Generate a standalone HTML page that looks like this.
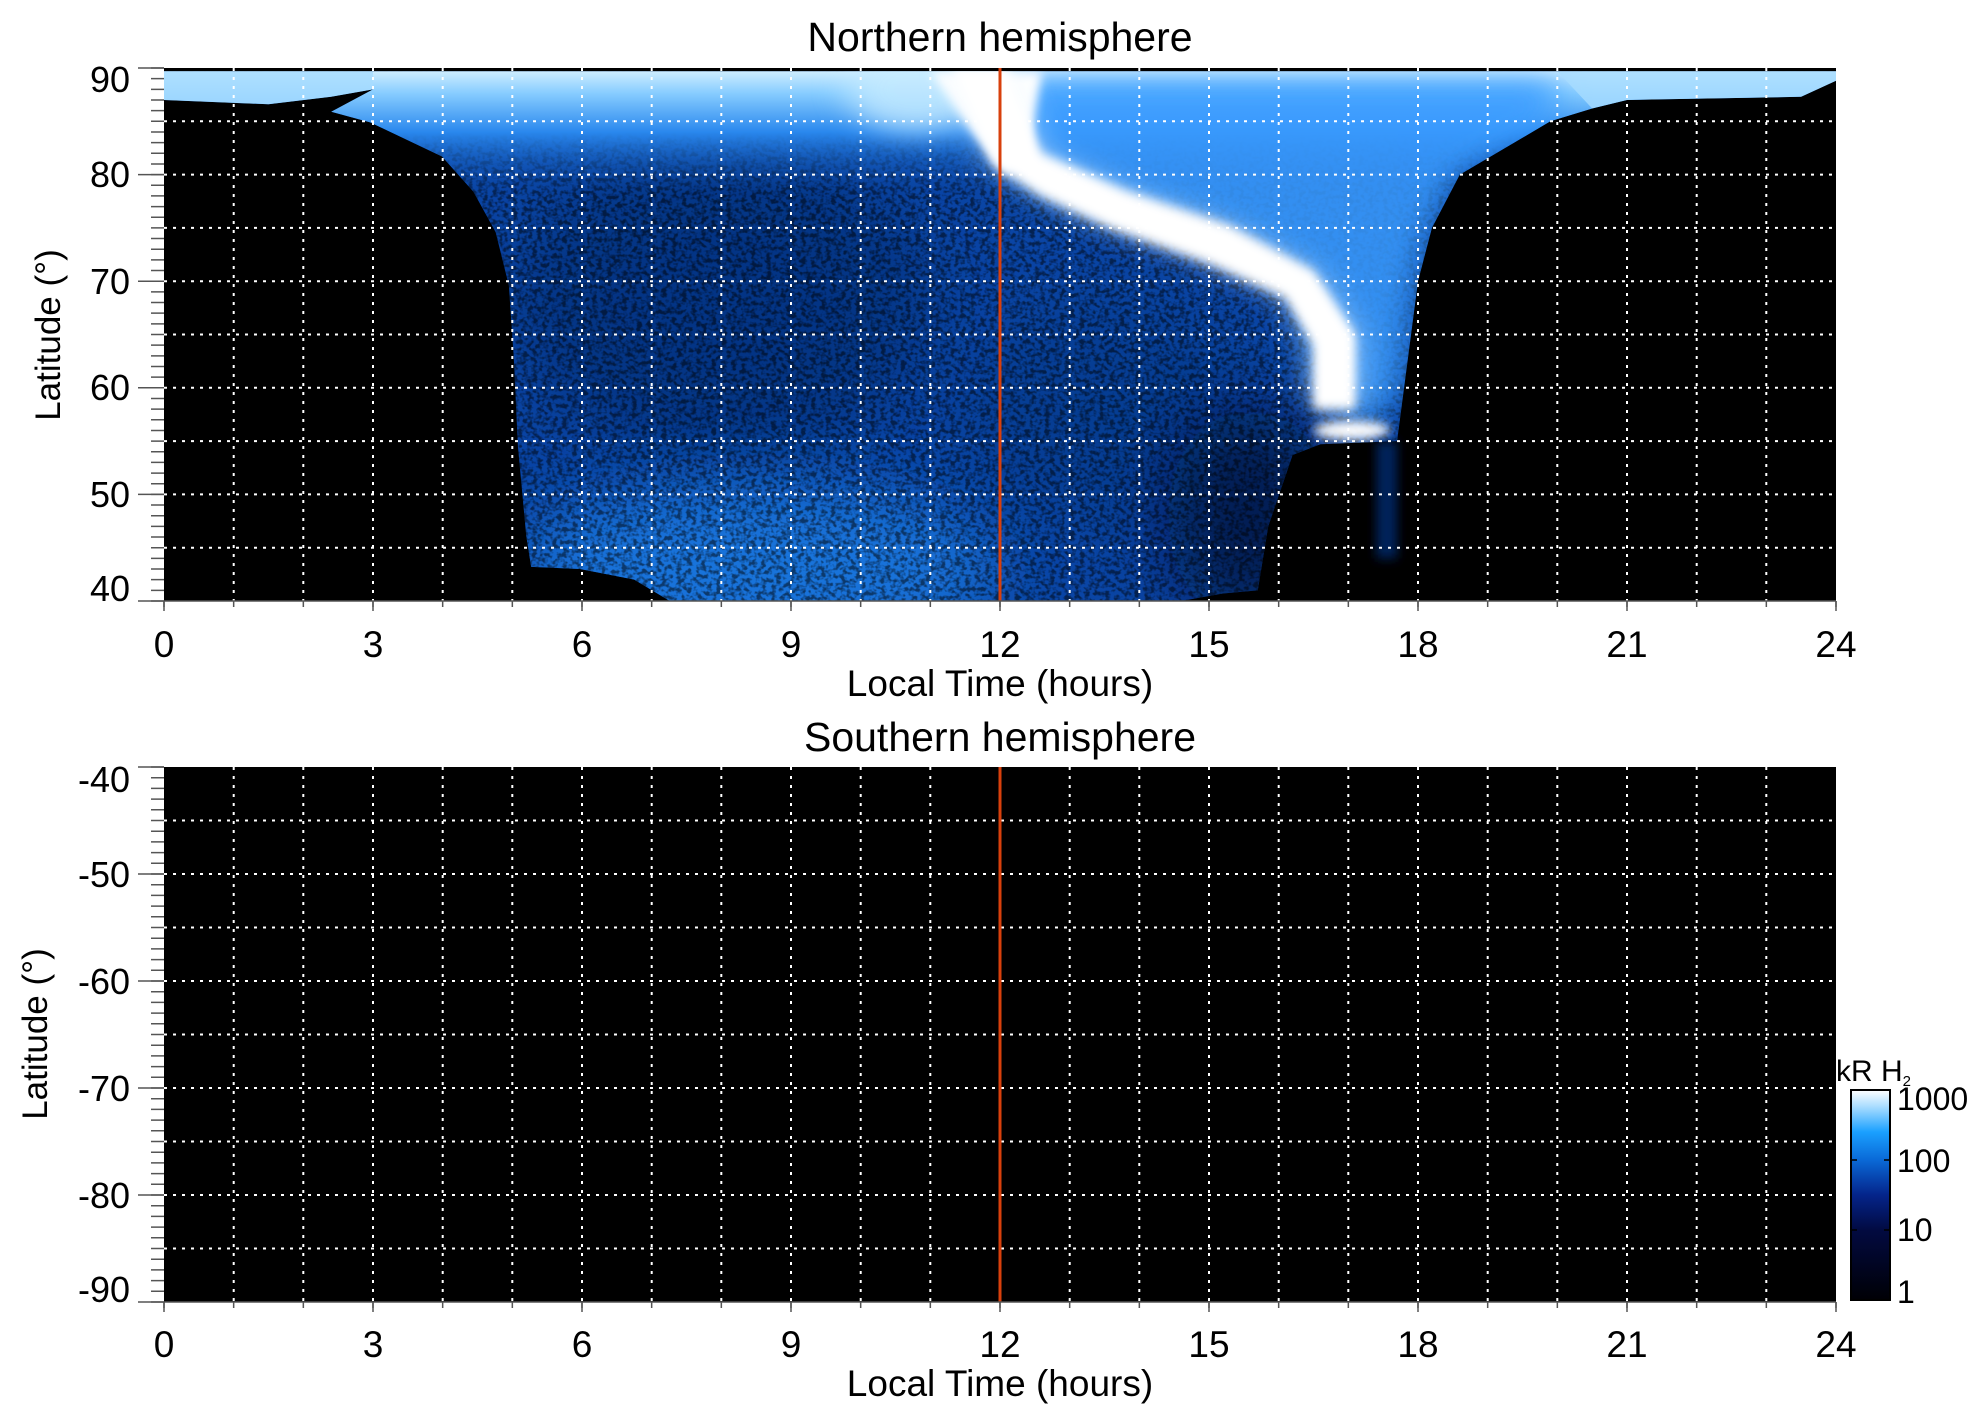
<!DOCTYPE html>
<html><head><meta charset="utf-8">
<style>
html,body{margin:0;padding:0;background:#fff;}
svg{display:block;}
text{font-family:"Liberation Sans",Arial,sans-serif;fill:#000;}
</style></head>
<body>
<svg width="1983" height="1423" viewBox="0 0 1983 1423" xmlns="http://www.w3.org/2000/svg">
<defs>
  <clipPath id="reg" clipPathUnits="userSpaceOnUse">
    <path d="M0,0.3 L0,3.0 L1.5,3.4 L2.4,2.7 L3.0,2.0 L2.4,4.1 L2.96,5.1 L3.99,8.3 L4.44,11.6 L4.76,15.4 L4.95,20.4 L5.02,27.1 L5.08,35.5 L5.2,43.9 L5.27,46.8 L5.97,47.0 L6.75,48 L7.26,50 L14.6,50 L15.2,49.3 L15.7,49 L15.85,43 L16.2,36.3 L16.6,35.3 L17.7,35 L17.8,30 L18.0,20 L18.2,15 L18.6,10 L19.9,5 L20.5,3.8 L21,3.0 L23.5,2.7 L24,1.2 L24,0.3 Z"/>
  </clipPath>
  <clipPath id="plotclip"><rect x="0" y="0" width="24" height="50"/></clipPath>
  <linearGradient id="topg" x1="0" y1="0" x2="0" y2="1">
    <stop offset="0" stop-color="#d8f2ff"/>
    <stop offset="0.2" stop-color="#86ccff"/>
    <stop offset="0.5" stop-color="#2a88ee"/>
    <stop offset="1" stop-color="#0a45a5" stop-opacity="0"/>
  </linearGradient>
  <linearGradient id="cb" x1="0" y1="1" x2="0" y2="0">
    <stop offset="0" stop-color="#000005"/>
    <stop offset="0.33" stop-color="#020a40"/>
    <stop offset="0.5" stop-color="#04248a"/>
    <stop offset="0.67" stop-color="#0a6ad8"/>
    <stop offset="0.8" stop-color="#1aa0ff"/>
    <stop offset="0.92" stop-color="#a8dcff"/>
    <stop offset="1" stop-color="#ffffff"/>
  </linearGradient>
  <filter id="b1" x="-50%" y="-50%" width="200%" height="200%"><feGaussianBlur stdDeviation="0.5 3"/></filter>
  <filter id="b2" x="-50%" y="-50%" width="200%" height="200%"><feGaussianBlur stdDeviation="0.07 0.5"/></filter>
  <filter id="b3" x="-50%" y="-50%" width="200%" height="200%"><feGaussianBlur stdDeviation="0.25 1.2"/></filter>
  <filter id="noise" filterUnits="userSpaceOnUse" x="0" y="0" width="24" height="50">
    <feTurbulence type="fractalNoise" baseFrequency="14 2.5" numOctaves="2" seed="3"/>
    <feColorMatrix type="matrix" values="0 0 0 0 0  0 0 0 0 0  0 0 0 0 0  4 0 0 0 -1.7"/>
  </filter>
</defs>

<!-- ============ TOP PANEL ============ -->
<rect x="164" y="68" width="1672" height="533" fill="#000"/>
<g transform="translate(164,68) scale(69.667,10.66)">
  <g clip-path="url(#plotclip)">
  <g clip-path="url(#reg)">
    <rect x="0" y="0" width="24" height="50" fill="#0a45a5"/>
    <ellipse cx="8" cy="22" rx="3" ry="14" fill="#042a70" opacity="0.6" filter="url(#b1)"/>
    <ellipse cx="8.5" cy="47" rx="3.5" ry="8" fill="#1f7fe8" opacity="0.8" filter="url(#b1)"/>
    <ellipse cx="13.5" cy="32" rx="2" ry="10" fill="#06307a" opacity="0.4" filter="url(#b1)"/>
    <ellipse cx="15.6" cy="42" rx="1.2" ry="10" fill="#020c30" opacity="0.7" filter="url(#b1)"/>
    <rect x="0" y="8" width="24" height="42" fill="#000" opacity="0.5" filter="url(#noise)"/>
    <rect x="0" y="0" width="24" height="12" fill="url(#topg)"/>
    <path d="M12.3,1 L20,1 L19.9,5 L18.6,10 L18.2,15 L18,20 L17.8,30 L17.3,34 L16.6,30 L16.3,20 L15,15 L13.2,13 L12.2,10 Z" fill="#3a9cff" opacity="0.85" filter="url(#b3)"/>
    <ellipse cx="10.8" cy="2" rx="1" ry="4" fill="#c8ecff" opacity="0.8" filter="url(#b3)"/>
    <path d="M11.0,0.3 L12.6,0.3 L12.4,8 L12.1,10 L11.6,6 Z" fill="#fff" filter="url(#b2)"/>
    <path d="M12.1,0 L12.6,8 L13.8,11.5 L15.3,14.8 L16.5,19 L17.1,25 L17.1,32 L16.5,32 L16.5,26 L16.1,21.5 L15.0,18.3 L13.6,15 L12.6,12 L11.9,9 L11.3,0 Z" fill="#e8f6ff" opacity="0.6" filter="url(#b3)"/>
    <path d="M12.1,0 L12.6,8 L13.8,11.5 L15.3,14.8 L16.5,19 L17.1,25 L17.1,32 L16.5,32 L16.5,26 L16.1,21.5 L15.0,18.3 L13.6,15 L12.6,12 L11.9,9 L11.3,0 Z" fill="#fff" filter="url(#b2)"/>
    <ellipse cx="17.05" cy="34" rx="0.55" ry="0.9" fill="#fff" filter="url(#b2)"/>
    <path d="M0,0.3 L3.0,0.3 L3.0,2.0 L2.4,2.7 L1.5,3.4 L0,3.0 Z" fill="#a8dcff" opacity="0.8"/>
    <path d="M20,0.3 L24,0.3 L24,1.2 L23.5,2.7 L21,3.0 L20.5,3.8 Z" fill="#a8dcff" opacity="0.8"/>
  </g>
  <rect x="17.4" y="35" width="0.3" height="11" fill="#05205a" filter="url(#b2)"/>
  </g>
</g>
<!-- grid top -->
<g stroke="#fff" stroke-width="2" stroke-dasharray="3 6">
  <line x1="164" x2="1836" y1="121.3" y2="121.3"/><line x1="164" x2="1836" y1="174.6" y2="174.6"/>
  <line x1="164" x2="1836" y1="227.9" y2="227.9"/><line x1="164" x2="1836" y1="281.2" y2="281.2"/>
  <line x1="164" x2="1836" y1="334.5" y2="334.5"/><line x1="164" x2="1836" y1="387.8" y2="387.8"/>
  <line x1="164" x2="1836" y1="441.1" y2="441.1"/><line x1="164" x2="1836" y1="494.4" y2="494.4"/>
  <line x1="164" x2="1836" y1="547.7" y2="547.7"/>
</g>
<g stroke="#fff" stroke-width="2" stroke-dasharray="3 6">
  <line y1="68" y2="601" x1="233.7" x2="233.7"/><line y1="68" y2="601" x1="303.3" x2="303.3"/><line y1="68" y2="601" x1="373" x2="373"/>
  <line y1="68" y2="601" x1="442.7" x2="442.7"/><line y1="68" y2="601" x1="512.3" x2="512.3"/><line y1="68" y2="601" x1="582" x2="582"/>
  <line y1="68" y2="601" x1="651.7" x2="651.7"/><line y1="68" y2="601" x1="721.3" x2="721.3"/><line y1="68" y2="601" x1="791" x2="791"/>
  <line y1="68" y2="601" x1="860.7" x2="860.7"/><line y1="68" y2="601" x1="930.3" x2="930.3"/>
  <line y1="68" y2="601" x1="1069.7" x2="1069.7"/><line y1="68" y2="601" x1="1139.3" x2="1139.3"/><line y1="68" y2="601" x1="1209" x2="1209"/>
  <line y1="68" y2="601" x1="1278.7" x2="1278.7"/><line y1="68" y2="601" x1="1348.3" x2="1348.3"/><line y1="68" y2="601" x1="1418" x2="1418"/>
  <line y1="68" y2="601" x1="1487.7" x2="1487.7"/><line y1="68" y2="601" x1="1557.3" x2="1557.3"/><line y1="68" y2="601" x1="1627" x2="1627"/>
  <line y1="68" y2="601" x1="1696.7" x2="1696.7"/><line y1="68" y2="601" x1="1766.3" x2="1766.3"/>
</g>
<line x1="1000" x2="1000" y1="68" y2="601" stroke="#d8400c" stroke-width="3"/>
<!-- top axes -->
<g stroke="#555" stroke-width="1.5">
  <line x1="157.5" x2="157.5" y1="67.25" y2="602" stroke-width="13" stroke-dasharray="1.5 9.16"/>
  <line x1="138" x2="164" y1="68" y2="68"/><line x1="138" x2="164" y1="174.6" y2="174.6"/>
  <line x1="138" x2="164" y1="281.2" y2="281.2"/><line x1="138" x2="164" y1="387.8" y2="387.8"/>
  <line x1="138" x2="164" y1="494.4" y2="494.4"/><line x1="138" x2="164" y1="601" y2="601"/>
  <line x1="164" x2="1836" y1="601" y2="601"/>
  <line x1="163.25" x2="1838" y1="604" y2="604" stroke-width="6" stroke-dasharray="1.5 68.167"/>
  <line x1="164" x2="164" y1="601" y2="611"/><line x1="373" x2="373" y1="601" y2="611"/><line x1="582" x2="582" y1="601" y2="611"/>
  <line x1="791" x2="791" y1="601" y2="611"/><line x1="1000" x2="1000" y1="601" y2="611"/><line x1="1209" x2="1209" y1="601" y2="611"/>
  <line x1="1418" x2="1418" y1="601" y2="611"/><line x1="1627" x2="1627" y1="601" y2="611"/><line x1="1836" x2="1836" y1="601" y2="611"/>
</g>
<g font-size="36" text-anchor="end">
  <text x="130" y="92">90</text><text x="130" y="187">80</text><text x="130" y="294">70</text>
  <text x="130" y="400">60</text><text x="130" y="507">50</text><text x="130" y="601">40</text>
</g>
<g font-size="37" text-anchor="middle">
  <text x="164" y="657">0</text><text x="373" y="657">3</text><text x="582" y="657">6</text>
  <text x="791" y="657">9</text><text x="1000" y="657">12</text><text x="1209" y="657">15</text>
  <text x="1418" y="657">18</text><text x="1627" y="657">21</text><text x="1836" y="657">24</text>
  <text x="1000" y="696">Local Time (hours)</text>
  <text x="1000" y="51" font-size="41">Northern hemisphere</text>
  <text transform="translate(60,335) rotate(-90)" font-size="35">Latitude (°)</text>
</g>

<!-- ============ BOTTOM PANEL ============ -->
<rect x="164" y="767" width="1672" height="535" fill="#000"/>
<g stroke="#fff" stroke-width="2" stroke-dasharray="3 6">
  <line x1="164" x2="1836" y1="820.5" y2="820.5"/><line x1="164" x2="1836" y1="874" y2="874"/>
  <line x1="164" x2="1836" y1="927.5" y2="927.5"/><line x1="164" x2="1836" y1="981" y2="981"/>
  <line x1="164" x2="1836" y1="1034.5" y2="1034.5"/><line x1="164" x2="1836" y1="1088" y2="1088"/>
  <line x1="164" x2="1836" y1="1141.5" y2="1141.5"/><line x1="164" x2="1836" y1="1195" y2="1195"/>
  <line x1="164" x2="1836" y1="1248.5" y2="1248.5"/>
</g>
<g stroke="#fff" stroke-width="2" stroke-dasharray="3 6">
  <line y1="767" y2="1302" x1="233.7" x2="233.7"/><line y1="767" y2="1302" x1="303.3" x2="303.3"/><line y1="767" y2="1302" x1="373" x2="373"/>
  <line y1="767" y2="1302" x1="442.7" x2="442.7"/><line y1="767" y2="1302" x1="512.3" x2="512.3"/><line y1="767" y2="1302" x1="582" x2="582"/>
  <line y1="767" y2="1302" x1="651.7" x2="651.7"/><line y1="767" y2="1302" x1="721.3" x2="721.3"/><line y1="767" y2="1302" x1="791" x2="791"/>
  <line y1="767" y2="1302" x1="860.7" x2="860.7"/><line y1="767" y2="1302" x1="930.3" x2="930.3"/>
  <line y1="767" y2="1302" x1="1069.7" x2="1069.7"/><line y1="767" y2="1302" x1="1139.3" x2="1139.3"/><line y1="767" y2="1302" x1="1209" x2="1209"/>
  <line y1="767" y2="1302" x1="1278.7" x2="1278.7"/><line y1="767" y2="1302" x1="1348.3" x2="1348.3"/><line y1="767" y2="1302" x1="1418" x2="1418"/>
  <line y1="767" y2="1302" x1="1487.7" x2="1487.7"/><line y1="767" y2="1302" x1="1557.3" x2="1557.3"/><line y1="767" y2="1302" x1="1627" x2="1627"/>
  <line y1="767" y2="1302" x1="1696.7" x2="1696.7"/><line y1="767" y2="1302" x1="1766.3" x2="1766.3"/>
</g>
<line x1="1000" x2="1000" y1="767" y2="1302" stroke="#d8400c" stroke-width="3"/>
<g stroke="#555" stroke-width="1.5">
  <line x1="157.5" x2="157.5" y1="766.25" y2="1303" stroke-width="13" stroke-dasharray="1.5 9.2"/>
  <line x1="138" x2="164" y1="767" y2="767"/><line x1="138" x2="164" y1="874" y2="874"/>
  <line x1="138" x2="164" y1="981" y2="981"/><line x1="138" x2="164" y1="1088" y2="1088"/>
  <line x1="138" x2="164" y1="1195" y2="1195"/><line x1="138" x2="164" y1="1302" y2="1302"/>
  <line x1="164" x2="1836" y1="1302" y2="1302"/>
  <line x1="163.25" x2="1838" y1="1305" y2="1305" stroke-width="6" stroke-dasharray="1.5 68.167"/>
  <line x1="164" x2="164" y1="1302" y2="1312"/><line x1="373" x2="373" y1="1302" y2="1312"/><line x1="582" x2="582" y1="1302" y2="1312"/>
  <line x1="791" x2="791" y1="1302" y2="1312"/><line x1="1000" x2="1000" y1="1302" y2="1312"/><line x1="1209" x2="1209" y1="1302" y2="1312"/>
  <line x1="1418" x2="1418" y1="1302" y2="1312"/><line x1="1627" x2="1627" y1="1302" y2="1312"/><line x1="1836" x2="1836" y1="1302" y2="1312"/>
</g>
<g font-size="36" text-anchor="end">
  <text x="130" y="792">-40</text><text x="130" y="887">-50</text><text x="130" y="994">-60</text>
  <text x="130" y="1101">-70</text><text x="130" y="1208">-80</text><text x="130" y="1302">-90</text>
</g>
<g font-size="37" text-anchor="middle">
  <text x="164" y="1357">0</text><text x="373" y="1357">3</text><text x="582" y="1357">6</text>
  <text x="791" y="1357">9</text><text x="1000" y="1357">12</text><text x="1209" y="1357">15</text>
  <text x="1418" y="1357">18</text><text x="1627" y="1357">21</text><text x="1836" y="1357">24</text>
  <text x="1000" y="1396">Local Time (hours)</text>
  <text x="1000" y="751" font-size="41">Southern hemisphere</text>
  <text transform="translate(47,1034) rotate(-90)" font-size="35">Latitude (°)</text>
</g>

<!-- colorbar -->
<rect x="1851" y="1090" width="39" height="210" fill="url(#cb)" stroke="#000" stroke-width="2"/>
<g stroke="#000" stroke-width="1.5">
  <line x1="1851" x2="1857" y1="1160" y2="1160"/><line x1="1884" x2="1890" y1="1160" y2="1160"/>
  <line x1="1851" x2="1857" y1="1230" y2="1230"/><line x1="1884" x2="1890" y1="1230" y2="1230"/>
</g>
<g font-size="32">
  <text x="1897" y="1110">1000</text>
  <text x="1897" y="1172">100</text>
  <text x="1897" y="1241">10</text>
  <text x="1897" y="1303">1</text>
  <text x="1836" y="1081" font-size="30">kR H<tspan font-size="15" dy="5">2</tspan></text>
</g>
</svg>
</body></html>
